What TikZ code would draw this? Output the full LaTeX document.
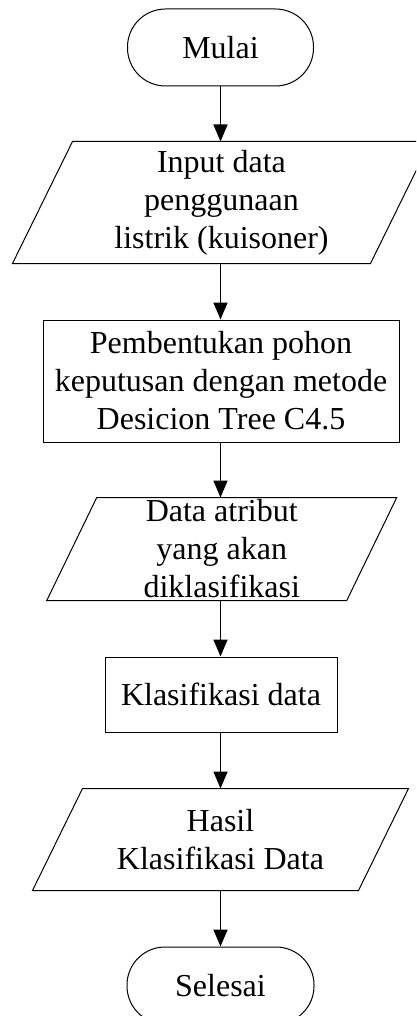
\documentclass[tikz,border=0pt]{standalone}
\usepackage{fontspec}
\setmainfont{Liberation Serif}
\usetikzlibrary{arrows.meta}
\begin{document}
\begin{tikzpicture}[x=1pt,y=-1pt,line width=1pt,
  txt/.style={align=center,font=\fontsize{32}{38}\selectfont,inner sep=0pt},
  term/.style={txt,draw,rounded corners=38pt,minimum width=186pt,minimum height=77pt},
  proc/.style={txt,draw,rectangle},
  io/.style={txt,rectangle},
  arr/.style={line width=1.6pt,-{Triangle[length=17pt,width=14pt]}}]
\clip (0,0) rectangle (416,1016);
\node[term] (mulai) at (220.5,47.5) {Mulai};
\node[io,minimum width=357pt,minimum height=121pt] (input) at (221.5,202.5)
  {Input data\\penggunaan\\listrik (kuisoner)};
\draw ([xshift=30pt]input.north west) -- ([xshift=30pt]input.north east)
  -- ([xshift=-30pt]input.south east) -- ([xshift=-30pt]input.south west) -- cycle;
\node[proc,minimum width=356pt,minimum height=122pt] (pohon) at (221,381)
  {Pembentukan pohon\\keputusan dengan metode\\Desicion Tree C4.5};
\node[io,minimum width=299pt,minimum height=102pt] (atribut) at (221.75,549)
  {Data atribut\\yang akan\\diklasifikasi};
\draw ([xshift=25pt]atribut.north west) -- ([xshift=25pt]atribut.north east)
  -- ([xshift=-25pt]atribut.south east) -- ([xshift=-25pt]atribut.south west) -- cycle;
\node[proc,minimum width=232pt,minimum height=75pt] (klas) at (221,694.5)
  {Klasifikasi data};
\node[io,minimum width=325pt,minimum height=101pt] (hasil) at (220.5,839.5)
  {Hasil\\Klasifikasi Data};
\draw ([xshift=25pt]hasil.north west) -- ([xshift=25pt]hasil.north east)
  -- ([xshift=-25pt]hasil.south east) -- ([xshift=-25pt]hasil.south west) -- cycle;
\node[term,minimum width=187pt] (selesai) at (220.5,985.5) {Selesai};
\draw[arr] (mulai.south) -- (mulai.south |- input.north);
\draw[arr] (mulai.south |- input.south) -- (mulai.south |- pohon.north);
\draw[arr] (mulai.south |- pohon.south) -- (mulai.south |- atribut.north);
\draw[arr] (mulai.south |- atribut.south) -- (mulai.south |- klas.north);
\draw[arr] (mulai.south |- klas.south) -- (mulai.south |- hasil.north);
\draw[arr] (mulai.south |- hasil.south) -- (selesai.north);
\end{tikzpicture}
\end{document}
